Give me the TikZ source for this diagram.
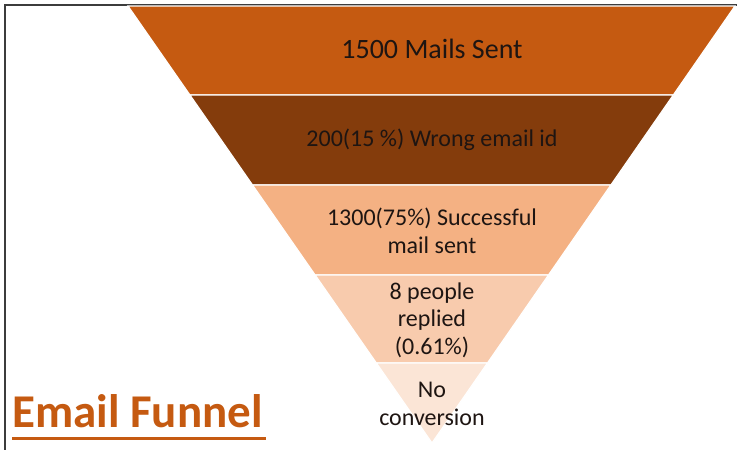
\documentclass[tikz,border=0pt]{standalone}
\usepackage{fontspec}
\setmainfont{Carlito}
\usetikzlibrary{calc}
\definecolor{bandA}{HTML}{C55A11}
\definecolor{bandB}{HTML}{843C0C}
\definecolor{bandC}{HTML}{F4B183}
\definecolor{bandD}{HTML}{F8CBAD}
\definecolor{bandE}{HTML}{FBE5D6}
\definecolor{textdark}{HTML}{1E1512}
\definecolor{framegray}{HTML}{3C3C3C}
\begin{document}
\begin{tikzpicture}[
    x=1pt, y=-1pt,
    band/.style={draw=white, line width=1.2pt},
    label/.style={font=\fontsize{24}{27.5}\selectfont, text=textdark, align=center},
    heading/.style={font=\bfseries\fontsize{47}{50}\selectfont, text=bandA, inner sep=0pt}
]
    \useasboundingbox (0,0) rectangle (737,450);
    % Frame
    \draw[framegray, line width=1.5pt] (5,450) -- (5,5) -- (737,5);

    % Funnel outline
    \coordinate (tl) at (128,6);
    \coordinate (tr) at (735,6);
    \coordinate (tip) at (432,443);

    % Bands
    \foreach \a/\b/\c in {0/0.2037/bandA, 0.2037/0.4096/bandB, 0.4096/0.6156/bandC,
                          0.6156/0.8169/bandD, 0.8169/1/bandE}
        \filldraw[band, fill=\c] ($(tl)!\a!(tip)$) -- ($(tr)!\a!(tip)$)
            -- ($(tr)!\b!(tip)$) -- ($(tl)!\b!(tip)$) -- cycle;

    % Labels
    \node[label, font=\fontsize{28}{32}\selectfont] (sent) at (432,49) {1500 Mails Sent};
    \node[label] (wrong) at (432,140) {200(15 \%) Wrong email id};
    \node[label] (success) at (432,231) {1300(75\%) Successful\\mail sent};
    \node[label] (replied) at (432,320) {8 people\\replied\\(0.61\%)};
    \node[label] (noconv) at (432,404) {No\\conversion};

    % Title
    \node[heading, anchor=base west] (title) at (12,427) {Email Funnel};
    \draw[bandA, line width=3pt] ([yshift=-11pt]title.base west) -- ([yshift=-11pt, xshift=3pt]title.base east);
\end{tikzpicture}
\end{document}
